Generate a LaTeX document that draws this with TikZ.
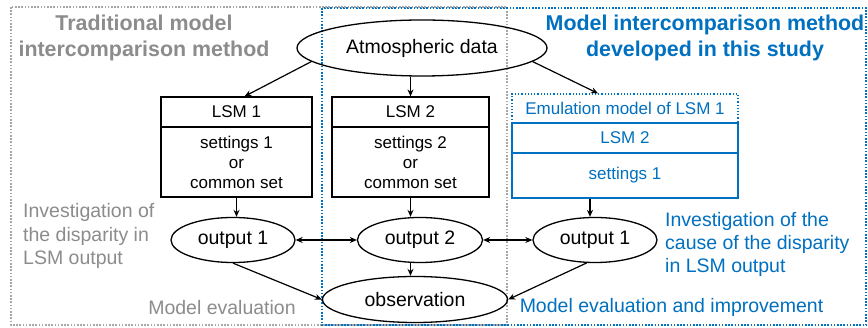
\documentclass[tikz,border=0pt]{standalone}
\usepackage{fontspec}
\setmainfont{Liberation Sans}
\usetikzlibrary{shapes.geometric,arrows.meta}
\definecolor{myblue}{HTML}{0070C0}
\definecolor{mygray}{HTML}{8C8C8C}
\definecolor{bordergray}{HTML}{A6A6A6}
\tikzset{
  base/.style={font=\fontsize{19.5}{23.5}\selectfont, inner sep=0pt},
  boxsty/.style={base, draw, line width=1.2pt, align=center, font=\fontsize{17}{20}\selectfont},
  bluebox/.style={boxsty, draw=myblue, text=myblue},
  ell/.style={base, ellipse, draw, line width=1.3pt},
  arr/.style={line width=1.2pt, -{Stealth[length=7pt,width=6pt]}},
  darr/.style={line width=1.2pt, {Stealth[length=7pt,width=6pt]}-{Stealth[length=7pt,width=6pt]}},
  frame/.style={line width=1.6pt, dash pattern=on 1.6pt off 1.6pt},
}
\begin{document}
\begin{tikzpicture}[x=1pt,y=-1pt]
\useasboundingbox[fill=white] (0,0) rectangle (868,328);
% frames
\draw[frame, bordergray] (11,7) rectangle (507,325);
\draw[frame, myblue] (322,8) rectangle (866,325);
\draw[frame, bordergray] (322,7) -- (507,7);
% titles
\node[base, align=center, text=mygray, font=\fontsize{21.4}{26}\selectfont\bfseries] (t1) at (144,38) {Traditional model\\intercomparison method};
\node[base, align=center, text=myblue, font=\fontsize{21.4}{26}\selectfont\bfseries] (t2) at (705,38) {Model intercomparison method\\developed in this study};
% atmospheric data
\node[ell, minimum width=250pt, minimum height=56pt] (atm) at (422,48) {Atmospheric data};
% LSM 1
\node[boxsty, minimum width=151pt, minimum height=30pt] (l1h) at (236.5,112) {LSM 1};
\node[boxsty, minimum width=151pt, minimum height=70pt] (l1b) at (236.5,162) {settings 1\\or\\common set};
% LSM 2
\node[boxsty, minimum width=157pt, minimum height=30pt] (l2h) at (410.5,112) {LSM 2};
\node[boxsty, minimum width=157pt, minimum height=70pt] (l2b) at (410.5,162) {settings 2\\or\\common set};
% emulation
\node[bluebox, dotted, minimum width=226pt, minimum height=29pt] (emu) at (625,108.5) {Emulation model of LSM 1};
\node[bluebox, minimum width=226pt, minimum height=30pt] (el2) at (625,138) {LSM 2};
\node[bluebox, minimum width=226pt, minimum height=45pt] (es1) at (625,175.5) {settings 1};
% outputs
\node[ell, minimum width=124pt, minimum height=45pt] (o1) at (233,240) {output 1};
\node[ell, minimum width=125pt, minimum height=45pt] (o2) at (420,240) {output 2};
\node[ell, minimum width=124pt, minimum height=45pt] (o3) at (595,240) {output 1};
\node[ell, minimum width=185pt, minimum height=46pt] (obs) at (415,299.5) {observation};
% side texts
\node[base, anchor=west, align=left, text=mygray] (g1) at (23,236) {Investigation of\\the disparity in\\LSM output};
\node[base, text=mygray] (g2) at (222,308) {Model evaluation};
\node[base, anchor=west, align=left, text=myblue, font=\fontsize{19.5}{23}\selectfont] (b1) at (665,244) {Investigation of the\\cause of the disparity\\in LSM output};
\node[base, text=myblue] (b2) at (671.5,307) {Model evaluation and improvement};
% arrows
\draw[arr] (atm.187) -- ([xshift=8pt]l1h.north);
\draw[arr] (l2h.north |- atm.south) -- (l2h.north);
\draw[arr] (atm.353) -- ([xshift=-27pt]emu.north);
\draw[arr] (l1b.south) -- (l1b.south |- o1.north);
\draw[arr] (l2b.south) -- (l2b.south |- o2.north);
\draw[arr] ([xshift=-5pt]o3.north |- es1.south) -- ([xshift=-5pt]o3.north);
\draw[darr] (o1.east) -- (o2.west);
\draw[darr] (o2.east) -- (o3.west);
\draw[arr] (o2.south -| l2b.south) -- (l2b.south |- obs.north);
\draw[arr] (o1.south) -- (obs.west);
\draw[arr] (o3.250) -- (obs.east);
\end{tikzpicture}
\end{document}
